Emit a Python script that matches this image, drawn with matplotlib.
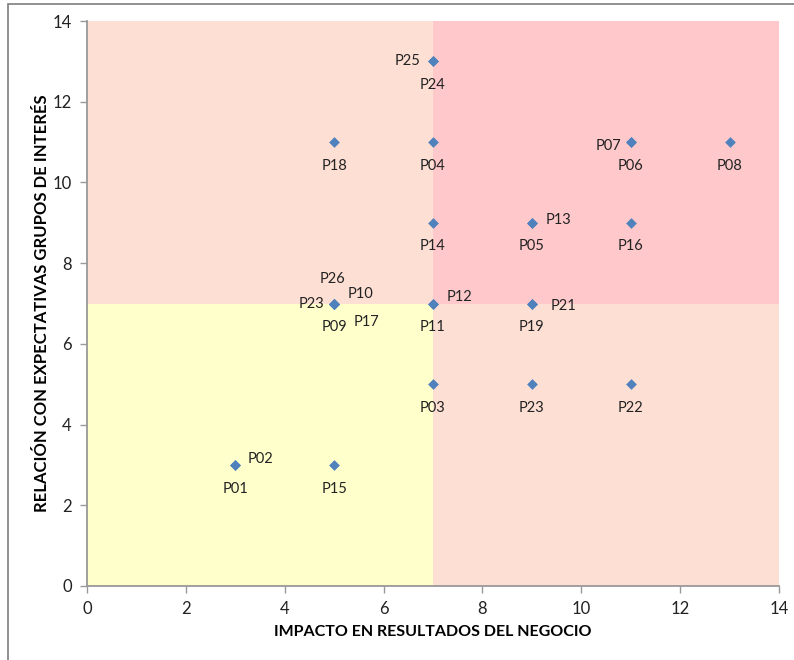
import matplotlib.pyplot as plt
from matplotlib.patches import Rectangle

plt.rcParams['font.family'] = ['Lato', 'DejaVu Sans']

# quadrant split and colours
split = 7
limit = 14
quad_colors = {
    'low_low': '#FFFFCC',
    'low_high': '#FDDFD4',
    'high_low': '#FDDFD4',
    'high_high': '#FFC9CB',
}

labels = ['P01', 'P02', 'P15', 'P03', 'P23', 'P22',
          'P11', 'P12', 'P26', 'P10', 'P23', 'P09', 'P17',
          'P19', 'P21', 'P14', 'P05', 'P13', 'P16',
          'P18', 'P04', 'P07', 'P06', 'P08', 'P25', 'P24']
impacto = [3, 3, 5, 7, 9, 11,
           7, 7, 5, 5, 5, 5, 5,
           9, 9, 7, 9, 9, 11,
           5, 7, 11, 11, 13, 7, 7]
relacion = [3, 3, 3, 5, 5, 5,
            7, 7, 7, 7, 7, 7, 7,
            7, 7, 9, 9, 9, 9,
            11, 11, 11, 11, 11, 13, 13]

# label offsets in points relative to each marker
BELOW = (0, -17)
offsets = [BELOW, (18, 4), BELOW, BELOW, BELOW, BELOW,
           BELOW, (19, 5), (-1, 18), (19, 7), (-16, 0), BELOW, (23, -13),
           BELOW, (23, -2), BELOW, BELOW, (19, 2), BELOW,
           BELOW, BELOW, (-16, -3), BELOW, BELOW, (-18, 0), BELOW]

fig = plt.figure(figsize=(7.94, 6.60), dpi=100)
fig.patches.append(Rectangle((7.5 / 794, -0.1), 1.2, 1 - 3.5 / 660 + 0.1,
                             transform=fig.transFigure, fill=False,
                             edgecolor='#888888', linewidth=1.3))
ax = fig.add_axes([87 / 794, 1 - 586 / 660, 692 / 794, 565 / 660])

ax.add_patch(Rectangle((0, 0), split, split, color=quad_colors['low_low'], lw=0, zorder=0))
ax.add_patch(Rectangle((0, split), split, limit - split, color=quad_colors['low_high'], lw=0, zorder=0))
ax.add_patch(Rectangle((split, 0), limit - split, split, color=quad_colors['high_low'], lw=0, zorder=0))
ax.add_patch(Rectangle((split, split), limit - split, limit - split, color=quad_colors['high_high'], lw=0, zorder=0))

ax.scatter(impacto, relacion, marker='D', s=30, color='#4F81BD', zorder=3, linewidths=0)

for name, x, y, (dx, dy) in zip(labels, impacto, relacion, offsets):
    ax.annotate(name, (x, y), xytext=(dx, dy), textcoords='offset points',
                ha='center', va='center', fontsize=10.5, color='#222222')

ax.set_xlim(0, limit)
ax.set_ylim(0, limit)
ax.set_xticks(range(0, limit + 1, 2))
ax.set_yticks(range(0, limit + 1, 2))

for side in ('top', 'right'):
    ax.spines[side].set_visible(False)
for side in ('left', 'bottom'):
    ax.spines[side].set_color('#999999')
    ax.spines[side].set_linewidth(1.3)
ax.tick_params(colors='#999999', labelcolor='#222222', labelsize=12, length=5, width=1)
ax.tick_params(axis='x', pad=6)
ax.tick_params(axis='y', pad=6)

ax.set_xlabel('IMPACTO EN RESULTADOS DEL NEGOCIO', fontsize=11.5, fontweight='bold')
ax.set_ylabel('RELACIÓN CON EXPECTATIVAS GRUPOS DE INTERÉS', fontsize=12, fontweight='bold')
ax.xaxis.set_label_coords(0.5, -0.069)
ax.yaxis.set_label_coords(-0.054, 0.5)

fig.savefig('out.png', dpi=100)
